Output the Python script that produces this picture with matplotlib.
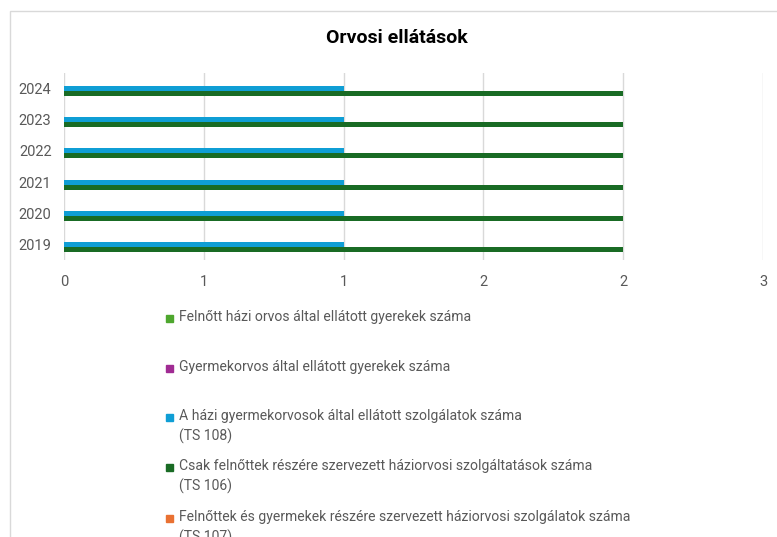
import numpy as np
import matplotlib.pyplot as plt
from matplotlib.patches import Rectangle

plt.rcParams['font.family'] = ['Roboto', 'DejaVu Sans']

years = ['2019', '2020', '2021', '2022', '2023', '2024']
series_names = [
    "Felnőtt házi orvos által ellátott gyerekek száma",
    "Gyermekorvos által ellátott gyerekek száma",
    "A házi gyermekorvosok által ellátott szolgálatok száma\n(TS 108)",
    "Csak felnőttek részére szervezett háziorvosi szolgáltatások száma\n(TS 106)",
    "Felnőttek és gyermekek részére szervezett háziorvosi szolgálatok száma\n(TS 107)",
]
colors = ['#4EA72E', '#A02B93', '#0F9ED5', '#196B24', '#E97132']
felnott_gyerek = [0, 0, 0, 0, 0, 0]
gyermekorvos_gyerek = [0, 0, 0, 0, 0, 0]
ts108 = [1, 1, 1, 1, 1, 1]
ts106 = [2, 2, 2, 2, 2, 2]
ts107 = [0, 0, 0, 0, 0, 0]
values = [felnott_gyerek, gyermekorvos_gyerek, ts108, ts106, ts107]

xticks = [0, 0.5, 1.0, 1.5, 2.0, 2.5]
xticklabels = ['0', '1', '1', '2', '2', '3']

grey = '#595959'
fig = plt.figure(figsize=(7.77, 5.37), dpi=100)
ax = fig.add_axes([64 / 777, 1 - 260 / 537, (763 - 64) / 777, (260 - 73) / 537])

# chart area border
fig.patches.append(Rectangle((9.5 / 777, -0.05), 1.1, 1.05 - 11.5 / 537,
                             transform=fig.transFigure, fill=False,
                             edgecolor='#D9D9D9', linewidth=1))

y = np.arange(len(years))
h = 0.16
for i, (vals, col) in enumerate(zip(values, colors)):
    ax.barh(y + (2 - i) * h, vals, height=h, color=col, zorder=3)

ax.set_xlim(0, 2.5)
ax.set_ylim(-0.5, len(years) - 0.5)
ax.set_xticks(xticks)
ax.set_xticklabels(xticklabels)
ax.set_yticks(y)
ax.set_yticklabels(years)
ax.grid(axis='x', color='#D9D9D9', linewidth=1, zorder=0)
for s in ax.spines.values():
    s.set_visible(False)
ax.tick_params(length=0, colors=grey, labelsize=10.5)
ax.tick_params(axis='x', pad=11)
ax.tick_params(axis='y', pad=9)

fig.text(397 / 777, 1 - 38 / 537, 'Orvosi ellátások', ha='center', va='center',
         fontsize=14, fontweight='bold', color='black')

# legend
leg_y = [318, 368, 417, 467, 518]
for name, col, ly in zip(series_names, colors, leg_y):
    fig.patches.append(Rectangle((166 / 777, 1 - (ly + 3.5) / 537), 7 / 777, 7 / 537,
                                 transform=fig.transFigure, color=col))
    fig.text(179 / 777, 1 - (ly - 8) / 537, name, ha='left', va='top',
             fontsize=10.1, color=grey, linespacing=1.5)

fig.savefig('out.png', dpi=100)
